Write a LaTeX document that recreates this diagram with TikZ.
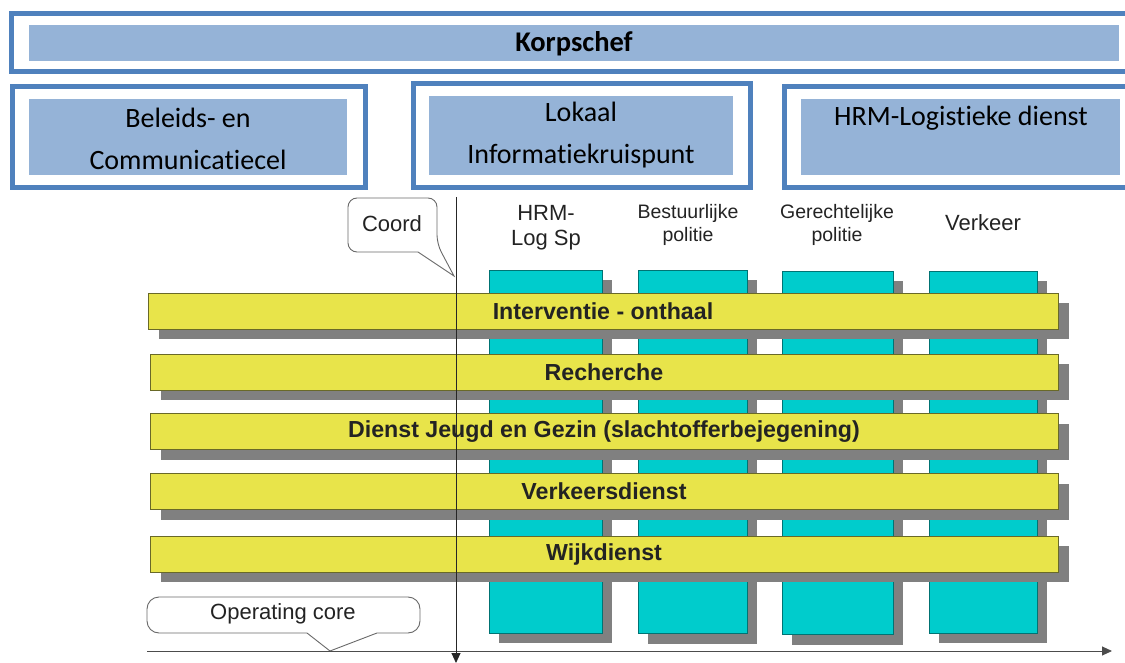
\documentclass[tikz,border=0pt]{standalone}
\usepackage{fontspec}
\setmainfont{Carlito}[Ligatures={NoCommon}]
\newfontfamily\arialf{Liberation Sans}
\usetikzlibrary{shadows,arrows.meta}
\definecolor{bordblue}{RGB}{79,129,189}
\definecolor{fillblue}{RGB}{149,179,215}
\definecolor{barY}{RGB}{232,228,74}
\definecolor{colC}{RGB}{0,204,204}
\definecolor{shgray}{RGB}{128,128,128}
\definecolor{barline}{RGB}{105,105,40}
\definecolor{colline}{RGB}{0,115,115}
\definecolor{callgray}{RGB}{105,105,105}
\definecolor{txtdark}{RGB}{35,35,35}
\begin{document}
\begin{tikzpicture}[x=1pt,y=-1pt,
  outerbox/.style={draw=bordblue, line width=5pt, fill=white, inner sep=0pt},
  innerbox/.style={fill=fillblue, inner sep=0pt},
  toptext/.style={font=\fontsize{28}{42}\selectfont, text=black, inner sep=0pt, align=center},
  colbox/.style={draw=colline, line width=0.8pt, fill=colC, inner sep=0pt,
    drop shadow={shadow xshift=10pt, shadow yshift=-10pt, fill=shgray, opacity=1}},
  barbox/.style={draw=barline, line width=0.8pt, fill=barY, inner sep=0pt,
    minimum width=908pt, minimum height=36pt,
    font=\arialf\bfseries\fontsize{23.2}{27}\selectfont, text=txtdark,
    drop shadow={shadow xshift=11pt, shadow yshift=-10pt, fill=shgray, opacity=1}},
  collabel/.style={font=\arialf\fontsize{22}{25}\selectfont, text=txtdark, align=center, inner sep=0pt},
  collabelsm/.style={font=\arialf\fontsize{19.5}{23}\selectfont, text=txtdark, align=center, inner sep=0pt},
  callout/.style={draw=callgray, line width=0.9pt, fill=white},
  axis/.style={line width=0.9pt}
]
\useasboundingbox (0,0) rectangle (1125,663);
\clip (0,0) rectangle (1125,663);

% ---------- top organisation boxes ----------
\node[outerbox, minimum width=1130pt, minimum height=58.5pt] (korpsout) at (576.5,42.75) {};
\node[innerbox, minimum width=1090pt, minimum height=36pt] (korpsin) at (574,43) {};
\node[font=\fontsize{28.5}{33}\selectfont\bfseries, inner sep=0pt] (korps) at (574,44) {Korpschef};

\node[outerbox, minimum width=353pt, minimum height=101pt] (b1out) at (188.5,137) {};
\node[innerbox, minimum width=318pt, minimum height=76pt] (b1in) at (188,137) {};
\node[toptext] (b1txt) at (188,139) {Beleids- en\\Communicatiecel};

\node[outerbox, minimum width=337.5pt, minimum height=104pt] (b2out) at (581.75,135.5) {};
\node[innerbox, minimum width=304pt, minimum height=79pt] (b2in) at (581,135.5) {};
\node[toptext] (b2txt) at (581,135) {Lokaal\\Informatiekruispunt};

\node[outerbox, minimum width=360pt, minimum height=101pt] (b3out) at (964.5,137) {};
\node[innerbox, minimum width=319pt, minimum height=76pt] (b3in) at (960,137) {};
\node[toptext] (b3txt) at (961,118) {HRM-Logistieke dienst};

% ---------- columns ----------
\node[colbox, minimum width=113pt, minimum height=363pt] (c1) at (545.5,451.5) {};
\node[colbox, minimum width=109pt, minimum height=363pt] (c2) at (692.5,452) {};
\node[colbox, minimum width=111pt, minimum height=363pt] (c3) at (837.5,453) {};
\node[colbox, minimum width=108pt, minimum height=362pt] (c4) at (983,452) {};

% ---------- bars ----------
\node[barbox, minimum width=910pt] (bar1) at (603,311) {Interventie - onthaal};
\node[barbox] (bar2) at (604,372) {Recherche};
\node[barbox] (bar3) at (604,431.5) {Dienst Jeugd en Gezin (slachtofferbejegening)};
\node[barbox] (bar4) at (604,491.5) {Verkeersdienst};
\node[barbox] (bar5) at (604,554) {Wijkdienst};

% ---------- column labels ----------
\node[collabel] (l1) at (546,227.5) {HRM-\\Log Sp};
\node[collabelsm] (l2) at (688,224.5) {Bestuurlijke\\politie};
\node[collabelsm] (l3) at (837,225) {Gerechtelijke\\politie};
\node[collabel] (l4) at (983,223) {Verkeer};

% ---------- Coord callout ----------
\draw[callout, rounded corners=9pt] (348,198) -- (437,198) -- (437,244)
  [sharp corners] -- (454,276) -- (418,252)
  [rounded corners=9pt] -- (348,252) -- cycle;
\node[font=\arialf\fontsize{22}{26}\selectfont, text=txtdark, inner sep=0pt] (coord) at (392,224) {Coord};

% ---------- Operating core callout ----------
\draw[callout, rounded corners=12pt] (147,597) -- (420,597) -- (420,633)
  [sharp corners] -- (377,633) -- (330,651) -- (307,633)
  [rounded corners=12pt] -- (147,633) -- cycle;
\node[font=\arialf\fontsize{22}{26}\selectfont, text=txtdark, inner sep=0pt] (opcore) at (283,614) {Operating core};

% ---------- axes ----------
\coordinate (vtop) at (456,197);
\coordinate (vbot) at (456,663);
\coordinate (hleft) at (147,651);
\coordinate (hright) at (1112,651);
\draw[axis, draw=black!70, -{Triangle[length=10pt,width=9pt]}] (hleft) -- (hright);
\draw[axis, draw=black!85, -{Triangle[length=10pt,width=9pt]}] (vtop) -- (vbot);
\end{tikzpicture}
\end{document}
